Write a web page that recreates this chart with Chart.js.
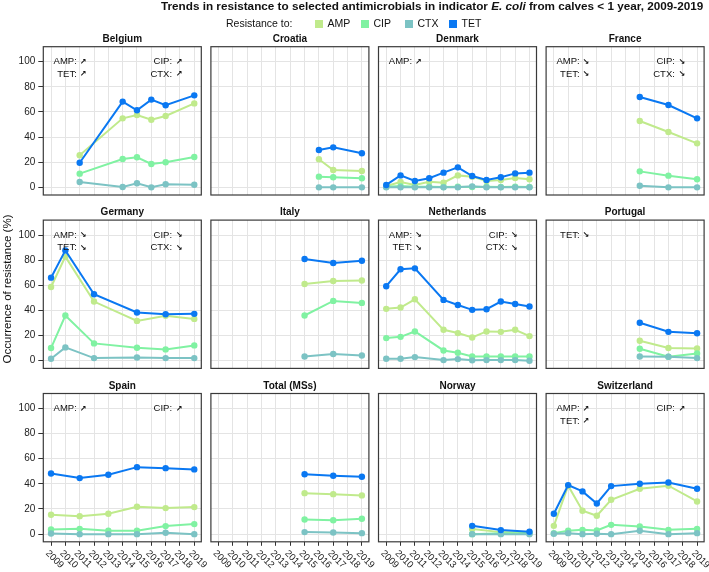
<!DOCTYPE html>
<html><head><meta charset="utf-8">
<script src="https://cdn.jsdelivr.net/npm/chart.js@4.4.1/dist/chart.umd.min.js"></script>
<style>
html,body{margin:0;padding:0;background:#fff;}
#wrap{position:relative;width:709px;height:572px;overflow:hidden;background:#fff;}
#wrap canvas{position:absolute;left:0;top:0;}
</style></head><body><div id="wrap"></div>
<script>
const years = [2009,2010,2011,2012,2013,2014,2015,2016,2017,2018,2019];
const yTicks = [0,20,40,60,80,100];
const countries = ['Belgium','Croatia','Denmark','France','Germany','Italy','Netherlands','Portugal','Spain','Total (MSs)','Norway','Switzerland'];
const series = ['AMP','CIP','CTX','TET'];
const _ = null;
//           2009 2010 2011 2012 2013 2014 2015 2016 2017 2018 2019
const AMP = [
  [_,_,25.5,_,_,54.9,57.6,53.8,56.8,_,66.8],            // Belgium
  [_,_,_,_,_,_,_,22.3,13.8,_,13.0],                     // Croatia
  [1.0,4.2,1.9,4.5,3.7,9.5,8.5,5.0,5.8,7.4,6.4],        // Denmark
  [_,_,_,_,_,_,52.8,_,44.0,_,35.0],                     // France
  [58.7,82.8,_,47.1,_,_,31.7,_,35.7,_,33.3],            // Germany
  [_,_,_,_,_,_,61.1,_,63.5,_,63.8],                     // Italy
  [41.3,42.3,48.9,_,24.6,22.0,18.5,23.3,23.0,24.6,19.6],// Netherlands
  [_,_,_,_,_,_,15.9,_,10.1,_,9.8],                      // Portugal
  [15.4,_,14.3,_,16.2,_,21.8,_,20.7,_,21.5],            // Spain
  [_,_,_,_,_,_,32.6,_,31.8,_,30.8],                     // Total (MSs)
  [_,_,_,_,_,_,4.0,_,1.6,_,1.1],                        // Norway
  [6.6,38.5,18.6,14.6,27.3,_,36.1,_,38.5,_,26.0]        // Switzerland
];
const CIP = [
  [_,_,10.9,_,_,22.5,23.9,18.6,19.9,_,24.1],
  [_,_,_,_,_,_,_,8.5,8.0,_,7.2],
  [0.5,1.0,0.5,0.5,0.3,0.5,0.3,0.5,0.3,0.5,0.3],
  [_,_,_,_,_,_,12.7,_,9.3,_,6.4],
  [10.1,36.0,_,13.8,_,_,10.3,_,9.0,_,12.2],
  [_,_,_,_,_,_,36.0,_,47.6,_,46.0],
  [18.0,19.0,23.3,_,8.2,6.3,3.4,3.4,3.4,3.4,3.4],
  [_,_,_,_,_,_,9.5,_,3.2,_,5.8],
  [3.7,_,4.2,_,2.7,_,2.7,_,6.4,_,8.0],
  [_,_,_,_,_,_,11.7,_,11.1,_,12.2],
  [_,_,_,_,_,_,0.0,_,0.8,_,0.8],
  [0.8,2.7,3.4,2.9,7.4,_,6.1,_,3.4,_,4.2]
];
const CTX = [
  [_,_,4.2,_,_,0.3,3.2,0.0,2.4,_,2.1],
  [_,_,_,_,_,_,_,0.0,0.0,_,0.0],
  [0,0,0,0,0,0,0.8,0,0,0,0],
  [_,_,_,_,_,_,1.3,_,0.0,_,0.0],
  [1.6,10.6,_,2.1,_,_,2.6,_,2.1,_,2.1],
  [_,_,_,_,_,_,3.4,_,5.3,_,4.2],
  [1.6,1.6,2.9,_,0.5,1.3,0.3,0.5,0.5,0.5,0.0],
  [_,_,_,_,_,_,3.4,_,3.2,_,2.1],
  [0.5,_,0.0,_,0.0,_,0.0,_,1.1,_,0.0],
  [_,_,_,_,_,_,1.6,_,1.3,_,0.8],
  [_,_,_,_,_,_,0.0,_,0.0,_,0.0],
  [0.3,0.8,0.0,0.3,0.0,_,2.7,_,0.0,_,0.8]
];
const TET = [
  [_,_,19.6,_,_,68.2,61.3,69.8,65.3,_,73.2],
  [_,_,_,_,_,_,_,29.7,31.8,_,27.1],
  [1.9,9.5,5.0,7.2,11.7,15.9,9.0,5.8,8.0,11.1,11.7],
  [_,_,_,_,_,_,71.9,_,65.5,_,54.9],
  [66.1,87.8,_,52.9,_,_,38.4,_,37.0,_,37.3],
  [_,_,_,_,_,_,81.0,_,77.8,_,79.6],
  [59.3,72.8,73.5,_,48.4,44.4,40.5,41.0,47.1,45.2,43.1],
  [_,_,_,_,_,_,30.2,_,23.0,_,21.9],
  [48.3,_,44.6,_,47.2,_,53.3,_,52.5,_,51.5],
  [_,_,_,_,_,_,47.7,_,46.4,_,45.6],
  [_,_,_,_,_,_,6.6,_,3.2,_,1.9],
  [16.2,39.0,34.0,24.4,38.2,_,40.1,_,41.1,_,36.1]
];
const UP = '\u2197', DOWN = '\u2198';
const trendLeft = [
  [['AMP:',UP],['TET:',UP]], [], [['AMP:',UP]], [['AMP:',DOWN],['TET:',DOWN]],
  [['AMP:',DOWN],['TET:',DOWN]], [], [['AMP:',DOWN],['TET:',DOWN]], [['TET:',DOWN]],
  [['AMP:',UP]], [], [], [['AMP:',UP],['TET:',UP]]
];
const trendRight = [
  [['CIP:',UP],['CTX:',UP]], [], [], [['CIP:',DOWN],['CTX:',DOWN]],
  [['CIP:',DOWN],['CTX:',DOWN]], [], [['CIP:',DOWN],['CTX:',DOWN]], [],
  [['CIP:',UP]], [], [], [['CIP:',UP]]
];

const valuesBy = {AMP, CIP, CTX, TET};
const colors = {AMP:'#c0ea8c', CIP:'#80f2a2', CTX:'#7cc3c4', TET:'#0a78f2'};
const FONT = '"Liberation Sans", Arial, Helvetica, sans-serif';
const W = 709, H = 572;
const colLeft = c => 43.3 + c * 167.6;
const rowTop = r => 46.7 + r * 173.4;
const BOX_W = 158, BOX_H = 148.3;
const X_MIN = 2008.46, X_MAX = 2019.49, Y_MIN = -6.1, Y_MAX = 111.9;

const framePlugin = {
  id: 'frame',
  afterDatasetsDraw(chart) {
    const a = chart.chartArea, ctx = chart.ctx;
    ctx.save();
    ctx.strokeStyle = '#3a3a3a';
    ctx.lineWidth = 1.2;
    ctx.strokeRect(a.left, a.top, a.right - a.left, a.bottom - a.top);
    ctx.restore();
  }
};

function drawGlobal(ctx) {
  ctx.save();
  ctx.fillStyle = '#111';
  const segs = [
    ['Trends in resistance to selected antimicrobials in indicator ', 'bold'],
    ['E. coli', 'italic bold'],
    [' from calves < 1 year, 2009-2019', 'bold']
  ];
  let total = 0;
  segs.forEach(s => { ctx.font = s[1] + ' 100px ' + FONT; total += ctx.measureText(s[0]).width; });
  const size = 100 * 543 / total;
  let x = 704 - total * size / 100;
  ctx.textBaseline = 'middle';
  ctx.textAlign = 'left';
  segs.forEach(s => {
    ctx.font = s[1] + ' ' + size + 'px ' + FONT;
    ctx.fillText(s[0], x, 7);
    x += ctx.measureText(s[0]).width;
  });
  ctx.font = '10.5px ' + FONT;
  ctx.fillStyle = '#111';
  ctx.fillText('Resistance to:', 226, 24.5);
  const sqX = [315, 361, 405, 449];
  series.forEach((s, i) => {
    ctx.fillStyle = colors[s];
    ctx.fillRect(sqX[i], 20, 8, 8);
    ctx.fillStyle = '#111';
    ctx.fillText(s, sqX[i] + 12.5, 24.5);
  });
  ctx.translate(8, 289);
  ctx.rotate(-Math.PI / 2);
  ctx.textAlign = 'center';
  ctx.font = '11.5px ' + FONT;
  ctx.fillText('Occurrence of resistance (%)', 0, 0);
  ctx.restore();
}

function textPlugin(k, name, r) {
  return {
    id: 'texts' + k,
    afterDraw(chart) {
      const ctx = chart.ctx, a = chart.chartArea;
      const xs = chart.scales.x, ys = chart.scales.y;
      ctx.save();
      ctx.fillStyle = '#111';
      ctx.textBaseline = 'middle';
      ctx.font = 'bold 10px ' + FONT;
      ctx.textAlign = 'center';
      ctx.fillText(name, (a.left + a.right) / 2, a.top - 7.5);
      const lineY = [ys.getPixelForValue(100), ys.getPixelForValue(90.1)];
      const drawGroup = (items, labelEnd, arrowStart) => {
        items.forEach((it, i) => {
          ctx.font = '9.5px ' + FONT;
          ctx.textAlign = 'right';
          ctx.fillText(it[0], xs.getPixelForValue(labelEnd), lineY[i]);
          ctx.font = 'bold 8px "DejaVu Sans", sans-serif';
          ctx.textAlign = 'left';
          ctx.fillText(it[1], xs.getPixelForValue(arrowStart), lineY[i]);
        });
      };
      drawGroup(trendLeft[k], 2010.8, 2011.0);
      drawGroup(trendRight[k], 2017.45, 2017.7);
      if (r === 2) {
        ctx.font = '9.5px ' + FONT;
        ctx.fillStyle = '#222';
        ctx.textAlign = 'left';
        years.forEach(yr => {
          ctx.save();
          ctx.translate(xs.getPixelForValue(yr) - 4, a.bottom + 10);
          ctx.rotate(Math.PI / 4);
          ctx.fillText(String(yr), 0, 0);
          ctx.restore();
        });
      }
      ctx.restore();
      if (k === 0) drawGlobal(ctx);
    }
  };
}

const wrap = document.getElementById('wrap');
countries.forEach((name, k) => {
  const r = Math.floor(k / 4), c = k % 4;
  const left = colLeft(c), top = rowTop(r);
  const yWidth = c === 0 ? left : 0;
  const cv = document.createElement('canvas');
  cv.width = W; cv.height = H;
  cv.style.width = W + 'px'; cv.style.height = H + 'px';
  wrap.appendChild(cv);
  const datasets = series.map((s, si) => ({
    label: s,
    data: years.map((yr, i) => valuesBy[s][k][i] == null ? null : {x: yr, y: valuesBy[s][k][i]}).filter(p => p),
    borderColor: colors[s],
    backgroundColor: colors[s],
    pointBackgroundColor: colors[s],
    borderWidth: 2,
    pointRadius: 3.2,
    pointBorderWidth: 0,
    pointHoverRadius: 3.2,
    tension: 0,
    order: 3 - si
  }));
  new Chart(cv, {
    type: 'line',
    data: {datasets},
    options: {
      responsive: false, animation: false, devicePixelRatio: 1, events: [],
      layout: {padding: {left: left - yWidth, top: top, right: W - left - BOX_W, bottom: H - top - BOX_H}},
      plugins: {legend: {display: false}, tooltip: {enabled: false}, title: {display: false}},
      scales: {
        x: {
          type: 'linear', min: X_MIN, max: X_MAX, bounds: 'data',
          afterFit: s => { s.height = 0; },
          afterBuildTicks: s => { s.ticks = years.map(v => ({value: v})); },
          grid: {color: '#e4e4e4', lineWidth: 1, drawTicks: r === 2, tickLength: 4, tickColor: '#333', tickWidth: 1},
          border: {display: false},
          ticks: {display: false}
        },
        y: {
          type: 'linear', min: Y_MIN, max: Y_MAX, bounds: 'data',
          afterFit: s => { s.width = yWidth; },
          afterBuildTicks: s => { s.ticks = yTicks.map(v => ({value: v})); },
          grid: {color: '#e4e4e4', lineWidth: 1, drawTicks: c === 0, tickLength: 5, tickColor: '#333', tickWidth: 1},
          border: {display: false},
          ticks: {display: c === 0, color: '#222', padding: 3, font: {size: 10, family: FONT}}
        }
      }
    },
    plugins: [framePlugin, textPlugin(k, name, r)]
  });
});
</script>
</body></html>
